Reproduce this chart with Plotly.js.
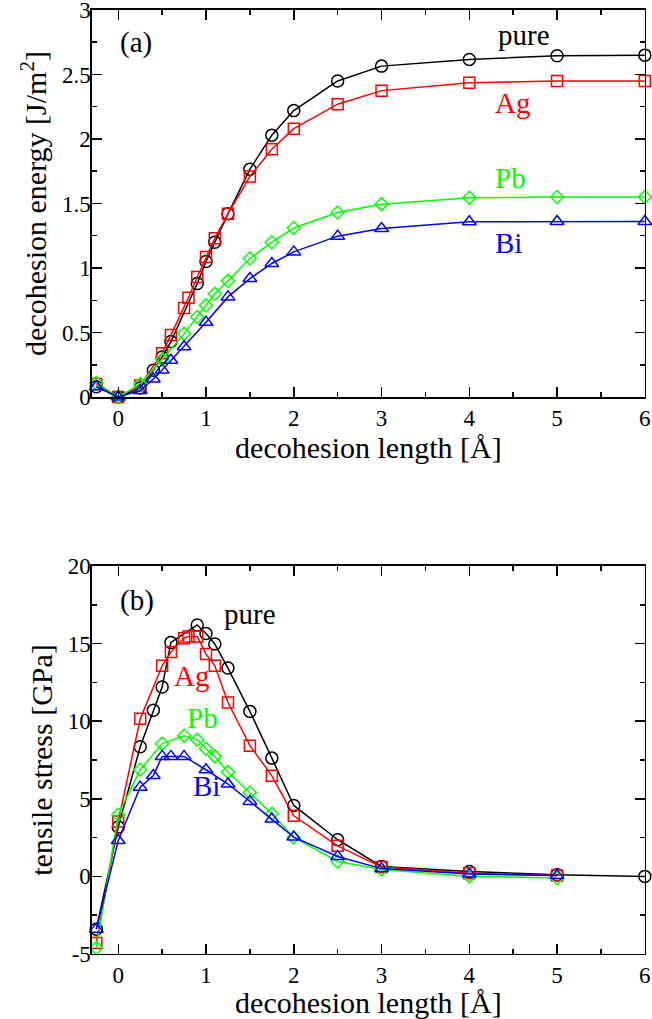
<!DOCTYPE html>
<html>
<head>
<meta charset="utf-8">
<script src="https://cdn.plot.ly/plotly-3.0.1.min.js"></script>
<style>html,body{margin:0;padding:0;background:#fff;}#chart{width:652px;height:1019px;}</style>
</head>
<body>
<div id="chart"></div>
<script>
// ---- Panel (a): decohesion energy [J/m^2] ----
var xPureA = [-0.25, 0, 0.25, 0.4, 0.5, 0.6, 0.9, 1.0, 1.1, 1.25, 1.5, 1.75, 2, 2.5, 3, 4, 5, 6];
var yPureA = [0.08, 0, 0.07, 0.207, 0.31, 0.43, 0.88, 1.05, 1.2, 1.42, 1.765, 2.03, 2.22, 2.45, 2.565, 2.617, 2.645, 2.65];
var xAgA = [-0.25, 0, 0.25, 0.5, 0.6, 0.75, 0.8, 0.9, 1.0, 1.1, 1.25, 1.5, 1.75, 2, 2.5, 3, 4, 5, 6];
var yAgA = [0.10, 0, 0.09, 0.34, 0.48, 0.69, 0.77, 0.93, 1.086, 1.23, 1.42, 1.71, 1.92, 2.08, 2.27, 2.375, 2.436, 2.45, 2.45];
var xPbA = [-0.25, 0, 0.25, 0.5, 0.75, 0.9, 1.0, 1.1, 1.25, 1.5, 1.75, 2, 2.5, 3, 4, 5, 6];
var yPbA = [0.11, 0, 0.10, 0.29, 0.49, 0.62, 0.71, 0.80, 0.90, 1.074, 1.2, 1.31, 1.43, 1.495, 1.544, 1.55, 1.55];
var xBiA = [-0.25, 0, 0.25, 0.4, 0.5, 0.6, 0.75, 1.0, 1.25, 1.5, 1.75, 2, 2.5, 3, 4, 5, 6];
var yBiA = [0.08, 0, 0.05, 0.14, 0.21, 0.285, 0.39, 0.58, 0.776, 0.918, 1.035, 1.125, 1.247, 1.306, 1.358, 1.36, 1.36];

// ---- Panel (b): tensile stress [GPa] ----
var xPureB = [-0.25, 0, 0.25, 0.4, 0.5, 0.6, 0.9, 1.0, 1.1, 1.25, 1.5, 1.75, 2, 2.5, 3, 4, 5, 6];
var yPureB = [-3.4, 3.18, 8.35, 10.7, 12.2, 15.07, 16.2, 15.65, 14.97, 13.42, 10.63, 7.62, 4.57, 2.36, 0.64, 0.32, 0.1, 0];
var xAgB = [-0.25, 0, 0.25, 0.5, 0.6, 0.75, 0.8, 0.9, 1.0, 1.1, 1.25, 1.5, 1.75, 2, 2.5, 3, 4, 5];
var yAgB = [-4.3, 3.54, 10.15, 13.57, 14.45, 15.35, 15.45, 15.46, 14.32, 13.57, 11.2, 8.42, 6.48, 3.9, 1.97, 0.6, 0.2, 0.05];
var xPbB = [-0.25, 0, 0.25, 0.5, 0.75, 0.9, 1.0, 1.1, 1.25, 1.5, 1.75, 2, 2.5, 3, 4, 5];
var yPbB = [-4.62, 3.97, 6.87, 8.54, 9.06, 8.8, 8.22, 7.73, 6.72, 5.4, 4.03, 2.51, 0.96, 0.45, 0.0, -0.1];
var xBiB = [-0.25, 0, 0.25, 0.4, 0.5, 0.6, 0.75, 1.0, 1.25, 1.5, 1.75, 2, 2.5, 3, 4, 5];
var yBiB = [-3.4, 2.31, 5.75, 6.5, 7.73, 7.73, 7.73, 6.87, 5.95, 4.83, 3.69, 2.53, 1.28, 0.5, 0.15, 0.05];

// tick labels
var xTickVals = [0, 1, 2, 3, 4, 5, 6];
var xTickText = ['0', '1', '2', '3', '4', '5', '6'];
var yTickValsA = [0, 0.5, 1, 1.5, 2, 2.5, 3];
var yTickTextA = ['0', '0.5', '1', '1.5', '2', '2.5', '3'];
var yTickValsB = [-5, 0, 5, 10, 15, 20];
var yTickTextB = ['-5', '0', '5', '10', '15', '20'];

var seriesNames = ['pure', 'Ag', 'Pb', 'Bi'];
var colors = ['#000000', '#ff0000', '#00ff00', '#0000ff'];
var symbols = ['circle-open', 'square-open', 'diamond-open', 'triangle-up-open'];
var msizes = [12, 11, 10, 12];

var dataA = [[xPureA, yPureA], [xAgA, yAgA], [xPbA, yPbA], [xBiA, yBiA]];
var dataB = [[xPureB, yPureB], [xAgB, yAgB], [xPbB, yPbB], [xBiB, yBiB]];

var traces = [];
function addTraces(set, xa, ya) {
  set.forEach(function (d, i) {
    traces.push({
      x: d[0], y: d[1], xaxis: xa, yaxis: ya, type: 'scatter', mode: 'lines+markers',
      name: seriesNames[i], showlegend: false, cliponaxis: false,
      line: {color: colors[i], width: 1.5},
      marker: {symbol: symbols[i], size: msizes[i], color: colors[i], line: {color: colors[i], width: 1.5}}
    });
  });
}
addTraces(dataA, 'x', 'y');
addTraces(dataB, 'x2', 'y2');

var FONT = 'Liberation Serif';
function xaxisDef(anchor) {
  return {
    anchor: anchor, domain: [0.141, 0.989], range: [-0.3, 6.0001],
    tickmode: 'array', tickvals: xTickVals, ticktext: xTickText,
    ticks: 'inside', ticklen: 10, tickwidth: 1.5, tickcolor: '#000',
    minor: {dtick: 0.5, ticklen: 5, tickwidth: 1.5, tickcolor: '#000', ticks: 'inside'},
    showline: true, linecolor: '#000', linewidth: 1.5, mirror: 'ticks',
    showgrid: false, zeroline: false, ticklabeloverflow: 'allow', ticklabelstandoff: 0,
    tickfont: {family: FONT, size: 23, color: '#000'},
    title: {text: 'decohesion length [Å]', font: {family: FONT, size: 30, color: '#000'}, standoff: 0}
  };
}
function yaxisDef(anchor, domain, range, tv, tt, mdt, title) {
  return {
    anchor: anchor, domain: domain, range: range,
    tickmode: 'array', tickvals: tv, ticktext: tt,
    ticks: 'inside', ticklen: 10, tickwidth: 1.5, tickcolor: '#000',
    minor: {dtick: mdt, ticklen: 5, tickwidth: 1.5, tickcolor: '#000', ticks: 'inside'},
    showline: true, linecolor: '#000', linewidth: 1.5, mirror: 'ticks',
    showgrid: false, zeroline: false, ticklabelstandoff: -5, ticklabeloverflow: 'allow',
    tickfont: {family: FONT, size: 23, color: '#000'},
    title: {text: title, font: {family: FONT, size: 30, color: '#000'}, standoff: 6}
  };
}

var ann = [];
function lab(text, x, y, xr, yr, color) {
  ann.push({text: text, x: x, y: y, xref: xr, yref: yr, showarrow: false,
    font: {family: FONT, size: 29, color: color}});
}
lab('(a)', 0.2, 2.75, 'x', 'y', '#000');
lab('pure', 4.62, 2.81, 'x', 'y', colors[0]);
lab('Ag', 4.49, 2.28, 'x', 'y', colors[1]);
lab('Pb', 4.47, 1.70, 'x', 'y', colors[2]);
lab('Bi', 4.45, 1.19, 'x', 'y', colors[3]);
lab('(b)', 0.21, 17.8, 'x2', 'y2', '#000');
lab('pure', 1.5, 16.9, 'x2', 'y2', colors[0]);
lab('Ag', 0.83, 12.9, 'x2', 'y2', colors[1]);
lab('Pb', 0.96, 10.2, 'x2', 'y2', colors[2]);
lab('Bi', 1.0, 5.8, 'x2', 'y2', colors[3]);

var layout = {
  width: 652, height: 1019,
  margin: {l: 0, r: 0, t: 0, b: 0},
  paper_bgcolor: '#fff', plot_bgcolor: '#fff',
  showlegend: false,
  xaxis: xaxisDef('y'),
  yaxis: yaxisDef('x', [0.6104, 0.9902], [0, 3.0001], yTickValsA, yTickTextA, 0.25, 'decohesion energy [J/m<sup>2</sup>]'),
  xaxis2: xaxisDef('y2'),
  yaxis2: yaxisDef('x2', [0.0638, 0.4446], [-5, 20.0001], yTickValsB, yTickTextB, 2.5, 'tensile stress [GPa]'),
  annotations: ann
};

Plotly.newPlot('chart', traces, layout, {displayModeBar: false, staticPlot: true});
</script>
</body>
</html>
